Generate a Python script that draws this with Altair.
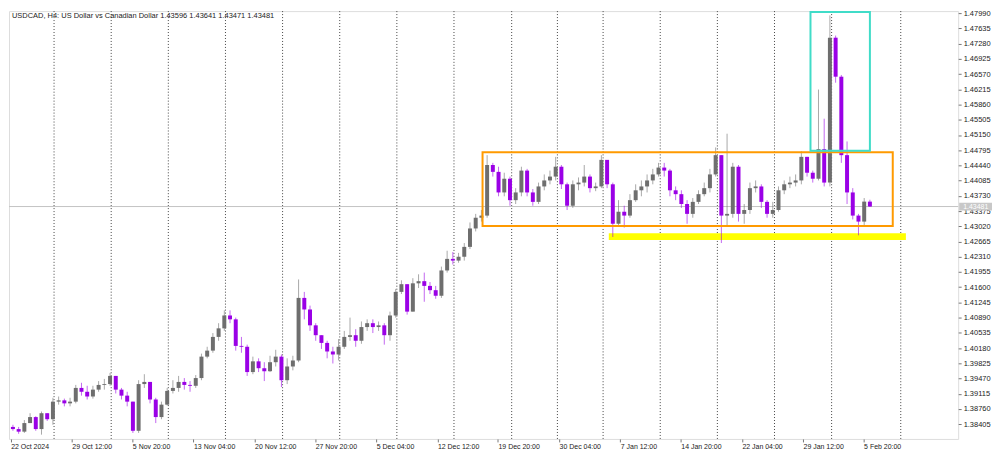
import json
import altair as alt
import pandas as pd

# ---------------- data ----------------
first_open = 1.3834
close = [1.3829, 1.3823, 1.3843, 1.3857, 1.3829, 1.3866, 1.3852, 1.3893, 1.3896, 1.3889,
         1.3893, 1.3925, 1.3916, 1.3905, 1.3921, 1.3932, 1.3934, 1.3953, 1.3921, 1.3907,
         1.3893, 1.3825, 1.3934, 1.3939, 1.3898, 1.3857, 1.3886, 1.3918, 1.3925, 1.3939,
         1.3932, 1.3930, 1.3948, 1.3998, 1.4012, 1.4044, 1.4064, 1.4094, 1.4085, 1.4023,
         1.4021, 1.3962, 1.3987, 1.3971, 1.3964, 1.3985, 1.3998, 1.3943, 1.3975, 1.3989,
         1.4135, 1.4108, 1.4071, 1.4048, 1.4030, 1.4010, 1.4003, 1.4021, 1.4044, 1.4048,
         1.4035, 1.4067, 1.4076, 1.4067, 1.4071, 1.4048, 1.4094, 1.4149, 1.4167, 1.4103,
         1.4169, 1.4174, 1.4163, 1.4153, 1.4140, 1.4199, 1.4226, 1.4222, 1.4231, 1.4254,
         1.4297, 1.4322, 1.4327, 1.4445, 1.4429, 1.4381, 1.4413, 1.4363, 1.4381, 1.4432,
         1.4381, 1.4359, 1.4395, 1.4409, 1.4418, 1.4441, 1.4400, 1.4350, 1.4400, 1.4404,
         1.4418, 1.4391, 1.4395, 1.4457, 1.4400, 1.4308, 1.4336, 1.4327, 1.4363, 1.4386,
         1.4395, 1.4409, 1.4423, 1.4439, 1.4432, 1.4386, 1.4377, 1.4354, 1.4331, 1.4359,
         1.4377, 1.4391, 1.4423, 1.4468, 1.4327, 1.4331, 1.4441, 1.4331, 1.4340, 1.4391,
         1.4395, 1.4359, 1.4331, 1.4340, 1.4386, 1.4400, 1.4404, 1.4409, 1.4464, 1.4427,
         1.4413, 1.4482, 1.4404, 1.4742, 1.4651, 1.4468, 1.4381, 1.4327, 1.4313, 1.43596,
         1.43481]
high = [1.3839, 1.3834, 1.3850, 1.3866, 1.3859, 1.3870, 1.3866, 1.3902, 1.3905, 1.3900,
        1.3902, 1.3932, 1.3937, 1.3930, 1.3930, 1.3941, 1.3946, 1.3960, 1.3953, 1.3925,
        1.3916, 1.3893, 1.3943, 1.3957, 1.3939, 1.3902, 1.3893, 1.3925, 1.3943, 1.3953,
        1.3948, 1.3941, 1.3955, 1.4005, 1.4021, 1.4053, 1.4076, 1.4106, 1.4106, 1.4089,
        1.4044, 1.4026, 1.3998, 1.3994, 1.3985, 1.4000, 1.4014, 1.4003, 1.3994, 1.4000,
        1.4178, 1.4149, 1.4117, 1.4076, 1.4048, 1.4035, 1.4021, 1.4039, 1.4058, 1.4089,
        1.4062, 1.4080, 1.4085, 1.4085, 1.4080, 1.4076, 1.4103, 1.4156, 1.4176, 1.4167,
        1.4181, 1.4190, 1.4194, 1.4172, 1.4163, 1.4208, 1.4245, 1.4242, 1.4240, 1.4263,
        1.4311, 1.4331, 1.4340, 1.4468, 1.4450, 1.4441, 1.4427, 1.4418, 1.4391, 1.4441,
        1.4436, 1.4389, 1.4404, 1.4423, 1.4432, 1.4464, 1.4445, 1.4404, 1.4409, 1.4416,
        1.4445, 1.4423, 1.4404, 1.4468, 1.4455, 1.4404, 1.4363, 1.4350, 1.4377, 1.4400,
        1.4409, 1.4423, 1.4436, 1.4450, 1.4450, 1.4436, 1.4395, 1.4386, 1.4363, 1.4368,
        1.4386, 1.4404, 1.4436, 1.4486, 1.4468, 1.4518, 1.4450, 1.4445, 1.4354, 1.4404,
        1.4409, 1.4400, 1.4363, 1.4359, 1.4395, 1.4409, 1.4418, 1.4423, 1.4477, 1.4464,
        1.4432, 1.4621, 1.4553, 1.4794, 1.4747, 1.4655, 1.4500, 1.4391, 1.4331, 1.4368,
        1.43641]
low = [1.3825, 1.3818, 1.3820, 1.3843, 1.3825, 1.3816, 1.3848, 1.3839, 1.3886, 1.3882,
       1.3882, 1.3889, 1.3907, 1.3898, 1.3900, 1.3916, 1.3921, 1.3930, 1.3912, 1.3898,
       1.3882, 1.3820, 1.3820, 1.3925, 1.3889, 1.3843, 1.3852, 1.3884, 1.3912, 1.3916,
       1.3921, 1.3916, 1.3925, 1.3943, 1.3994, 1.4007, 1.4035, 1.4058, 1.4076, 1.4012,
       1.4007, 1.3953, 1.3957, 1.3962, 1.3941, 1.3962, 1.3975, 1.3927, 1.3934, 1.3966,
       1.3985, 1.4085, 1.4058, 1.4035, 1.4016, 1.3994, 1.3982, 1.3989, 1.4016, 1.4035,
       1.4021, 1.4028, 1.4058, 1.4053, 1.4058, 1.4026, 1.4035, 1.4089, 1.4144, 1.4096,
       1.4103, 1.4158, 1.4126, 1.4144, 1.4133, 1.4135, 1.4194, 1.4213, 1.4217, 1.4222,
       1.4249, 1.4290, 1.4313, 1.4322, 1.4418, 1.4372, 1.4372, 1.4350, 1.4354, 1.4372,
       1.4372, 1.4350, 1.4354, 1.4386, 1.4400, 1.4409, 1.4389, 1.4340, 1.4345, 1.4386,
       1.4395, 1.4381, 1.4384, 1.4391, 1.4391, 1.4277, 1.4304, 1.4299, 1.4322, 1.4359,
       1.4372, 1.4381, 1.4400, 1.4418, 1.4418, 1.4372, 1.4363, 1.4345, 1.4308, 1.4322,
       1.4354, 1.4372, 1.4381, 1.4418, 1.4263, 1.4304, 1.4322, 1.4313, 1.4308, 1.4331,
       1.4381, 1.4345, 1.4322, 1.4322, 1.4336, 1.4377, 1.4391, 1.4395, 1.4400, 1.4418,
       1.4404, 1.4409, 1.4395, 1.4395, 1.4637, 1.4450, 1.4354, 1.4318, 1.4281, 1.4304,
       1.43471]

week_lines = [7.2, 17.2, 27.2, 37.2, 47.2, 57.2, 67.2, 77.2, 87.3, 95.3, 103.3,
              113.3, 123.3, 133.3, 143.3, 155.4]
tick_pos = [-0.4, 10.3, 20.9, 31.6, 42.3, 52.9, 63.6, 74.3, 84.9, 95.6, 106.3,
            116.9, 127.6, 138.3, 148.9]
tick_labels = ["22 Oct 2024", "29 Oct 12:00", "5 Nov 20:00", "13 Nov 04:00",
               "20 Nov 12:00", "27 Nov 20:00", "5 Dec 04:00", "12 Dec 12:00",
               "19 Dec 20:00", "30 Dec 04:00", "7 Jan 12:00", "14 Jan 20:00",
               "22 Jan 04:00", "29 Jan 12:00", "5 Feb 20:00"]
price_ticks = [1.38405, 1.38760, 1.39115, 1.39470, 1.39825, 1.40180, 1.40535,
               1.40890, 1.41245, 1.41600, 1.41955, 1.42310, 1.42665, 1.43020,
               1.43375, 1.43730, 1.44085, 1.44440, 1.44795, 1.45150, 1.45505,
               1.45860, 1.46215, 1.46570, 1.46925, 1.47280, 1.47635, 1.47990]
last_price = 1.43481
title_text = "USDCAD, H4:  US Dollar vs Canadian Dollar  1.43596 1.43641 1.43471 1.43481"

# annotation zones (candle index / price)
box_names = ["range", "spike"]
box_x0 = [82.2, 139.6]
box_x1 = [154.0, 150.0]
box_y0 = [1.4303, 1.4478]
box_y1 = [1.4475, 1.4802]
support_x = [104.3, 156.3]
support_y = [1.4270, 1.4286]

# ---------------- build ----------------
W, H = 954, 430
FONT = "Liberation Sans"

opens = [first_open] + close[:-1]
df = pd.DataFrame({
    "k": list(range(len(close))),
    "open": opens, "high": high, "low": low, "close": close,
})
df["dir"] = ["up" if c >= o else "down" for o, c in zip(df["open"], df["close"])]

xs = alt.Scale(domain=[-0.688, 165.45], nice=False, zero=False, padding=0)
ys = alt.Scale(domain=[1.3806, 1.4804], nice=False, zero=False, padding=0)

label_expr = (json.dumps(tick_labels) + "[indexof(" + json.dumps(tick_pos) + ", datum.value)]")
xaxis = alt.Axis(values=tick_pos, labelExpr=label_expr, grid=False, domain=False,
                 tickSize=3, tickColor="#777", labelFontSize=7, labelColor="#222",
                 labelFont=FONT, labelAlign="left", labelBaseline="top", labelPadding=1,
                 labelFlush=False, labelOverlap=False, title=None)
yaxis = alt.Axis(orient="right", values=price_ticks, format=".5f", grid=False,
                 domain=False, tickSize=3, tickColor="#777", labelFontSize=7.5,
                 labelColor="#222", labelFont=FONT, labelPadding=2,
                 labelBaseline="middle", labelOverlap=False, labelFlush=False, title=None)


def X(f):
    return alt.X(f, type="quantitative", scale=xs, axis=xaxis)


def Y(f):
    return alt.Y(f, type="quantitative", scale=ys, axis=yaxis)


color = alt.Color("dir:N", scale=alt.Scale(domain=["up", "down"],
                                           range=["#6e6e6e", "#9a00e6"]), legend=None)

grid = alt.Chart(pd.DataFrame({"k": week_lines})).mark_rule(
    color="#444", strokeDash=[1, 2], strokeWidth=1).encode(x=X("k"))

pline = alt.Chart(pd.DataFrame({"p": [last_price]})).mark_rule(
    color="#c4c4c4", strokeWidth=1).encode(y=Y("p"))

support = alt.Chart(pd.DataFrame({"x0": [support_x[0]], "x1": [support_x[1]],
                                  "y0": [support_y[0]], "y1": [support_y[1]]})).mark_rect(
    color="#ffff00").encode(x=X("x0"), x2="x1", y=Y("y0"), y2="y1")

wicks = alt.Chart(df).mark_rule(strokeWidth=1, opacity=0.6).encode(
    x=X("k"), y=Y("low"), y2="high", color=color)
bodies = alt.Chart(df).mark_bar(width=4).encode(
    x=X("k"), y=Y("open"), y2="close", color=color)

boxes_df = pd.DataFrame({"name": box_names, "x0": box_x0, "x1": box_x1,
                         "y0": box_y0, "y1": box_y1})
boxes = alt.Chart(boxes_df).mark_rect(fillOpacity=0, strokeWidth=2).encode(
    x=X("x0"), x2="x1", y=Y("y0"), y2="y1",
    stroke=alt.Stroke("name:N", scale=alt.Scale(domain=box_names,
                                                range=["#ff9a00", "#40dcc8"]), legend=None))

title = alt.Chart(pd.DataFrame({"t": [title_text]})).mark_text(
    align="left", baseline="top", fontSize=7.5, font=FONT, color="#222").encode(
    x=alt.value(3), y=alt.value(1), text="t:N")

pbox_df = pd.DataFrame({"p": [last_price], "lo": [last_price - 0.0009],
                        "hi": [last_price + 0.0009], "t": ["%.5f" % last_price]})
pbox = alt.Chart(pbox_df).mark_rect(color="#c8c8c8", clip=False).encode(
    x=alt.value(W + 1), x2=alt.value(W + 34), y=Y("lo"), y2="hi")
ptext = alt.Chart(pbox_df).mark_text(align="left", baseline="middle", fontSize=7,
                                     font=FONT, color="#ffffff", clip=False).encode(
    x=alt.value(W + 5), y=Y("p"), text="t:N")

chart = alt.layer(grid, pline, support, wicks, bodies, boxes, title, pbox, ptext).properties(
    width=W, height=H, padding=0
).configure_view(stroke="#8a8a8a", strokeWidth=1).configure(background="white")

chart.save("out.html", embed_options={"renderer": "svg", "actions": False})
